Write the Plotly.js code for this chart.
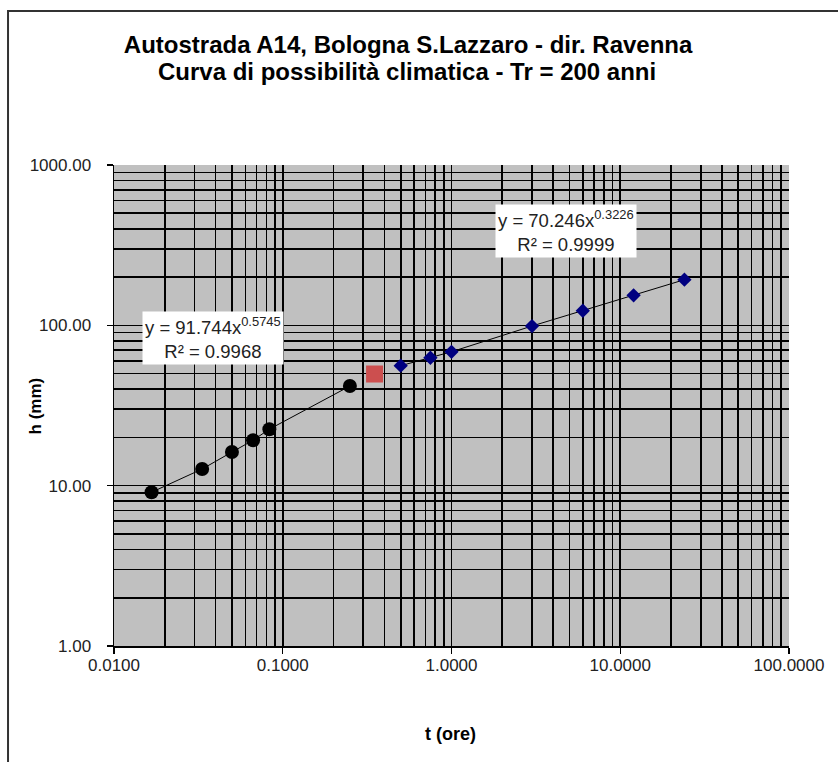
<!DOCTYPE html>
<html>
<head>
<meta charset="utf-8">
<script src="https://cdn.plot.ly/plotly-3.0.1.min.js"></script>
<style>html,body{margin:0;padding:0;background:#fff;}#chart{width:838px;height:762px;}</style>
</head>
<body>
<div id="chart"></div>
<script>
// Short-duration data (t in hours, h in mm)
const tShort = [0.0167, 0.0333, 0.05, 0.0667, 0.0833, 0.25];
const hShort = [9.1, 12.7, 16.2, 19.2, 22.5, 41.8];
// Intermediate point
const tMid = [0.35];
const hMid = [49.7];
// Long-duration data
const tLong = [0.5, 0.75, 1, 3, 6, 12, 24];
const hLong = [56.0, 62.8, 68.4, 99.0, 123.3, 153.9, 192.6];
// Tick labels
const xTickVals = [0.01, 0.1, 1, 10, 100];
const xTickText = ["0.0100", "0.1000", "1.0000", "10.0000", "100.0000"];
const yTickVals = [1, 10, 100, 1000];
const yTickText = ["1.00", "10.00", "100.00", "1000.00"];
// Titles and fit equations
const titleLine1 = "Autostrada A14, Bologna S.Lazzaro - dir. Ravenna";
const titleLine2 = "Curva di possibilità climatica - Tr = 200 anni";
const fitShort = "y = 91.744x<sup>0.5745</sup><br>R² = 0.9968";
const fitLong = "y = 70.246x<sup>0.3226</sup><br>R² = 0.9999";

// gridline positions: every 1..9 × 10^e
function gridVals(lo, hi) {
  const v = [];
  for (let e = lo; e < hi; e++) for (let k = 1; k <= 9; k++) v.push(k * Math.pow(10, e));
  v.push(Math.pow(10, hi));
  return v;
}

const font = "Liberation Sans, Arial, sans-serif";
const traces = [
  // empty trace to register the grid axes
  {x: [], y: [], xaxis: "x2", yaxis: "y2", showlegend: false, hoverinfo: "skip"},
  {x: tShort, y: hShort, mode: "lines+markers", line: {color: "#000", width: 1},
   marker: {symbol: "circle", size: 14, color: "#000"}, showlegend: false},
  {x: tMid, y: hMid, mode: "markers",
   marker: {symbol: "square", size: 17, color: "#cc4f4f"}, showlegend: false},
  {x: tLong, y: hLong, mode: "lines+markers", line: {color: "#000", width: 1},
   marker: {symbol: "diamond", size: 11, color: "#000080"}, showlegend: false}
];

const gridAxis = {
  type: "log", tickmode: "array", showgrid: true, gridcolor: "#000", gridwidth: 1.6,
  showticklabels: false, ticks: "", zeroline: false, showline: false
};
const layout = {
  width: 838, height: 762,
  margin: {l: 114, r: 49, t: 165, b: 116, pad: 0},
  paper_bgcolor: "#fff", plot_bgcolor: "#c0c0c0",
  font: {family: font, color: "#222", size: 17},
  title: {text: "<b>" + titleLine1 + "</b>",
          font: {family: font, size: 24, color: "#000"}, x: 0.487, xanchor: "center", xref: "container",
          y: 1 - 45 / 762, yanchor: "middle", yref: "container"},
  xaxis: {type: "log", range: [-2, 2],
          tickmode: "array", tickvals: xTickVals, ticktext: xTickText, showgrid: false, zeroline: false,
          showline: true, linecolor: "#000", linewidth: 1.5,
          ticks: "outside", ticklen: 6, tickcolor: "#000", tickwidth: 1.3,
          tickfont: {family: font, size: 17, color: "#222"}, ticklabelstandoff: -3},
  yaxis: {type: "log", range: [0, 3],
          tickmode: "array", tickvals: yTickVals, ticktext: yTickText, showgrid: false, zeroline: false,
          showline: true, linecolor: "#000", linewidth: 1.5,
          ticks: "outside", ticklen: 6, tickcolor: "#000", tickwidth: 1.3,
          tickfont: {family: font, size: 17, color: "#222"}, ticklabelstandoff: 12},
  xaxis2: Object.assign({}, gridAxis, {matches: "x", overlaying: "x", anchor: "y2", tickvals: gridVals(-2, 2)}),
  yaxis2: Object.assign({}, gridAxis, {matches: "y", overlaying: "y", anchor: "x2", tickvals: gridVals(0, 3)}),
  annotations: [
    {text: "<b>" + titleLine2 + "</b>", xref: "paper", yref: "paper", x: (407 - 114) / 675, y: (645.7 - 72) / 480.7,
     xanchor: "center", yanchor: "middle", showarrow: false, font: {family: font, size: 24, color: "#000"}},
    {text: fitShort, xref: "paper", yref: "paper", x: 0.146, y: 0.64, xanchor: "center", yanchor: "middle",
     showarrow: false, bgcolor: "#fff", font: {size: 18.5, color: "#222"}, borderpad: 2, align: "center"},
    {text: fitLong, xref: "paper", yref: "paper", x: 0.670, y: 0.863, xanchor: "center", yanchor: "middle",
     showarrow: false, bgcolor: "#fff", font: {size: 18.5, color: "#222"}, borderpad: 2, align: "center"},
    {text: "<b>t (ore)</b>", xref: "paper", yref: "paper", x: 0.498, y: -0.182, xanchor: "center", yanchor: "middle",
     showarrow: false, font: {size: 18, color: "#000"}},
    {text: "<b>h (mm)</b>", xref: "paper", yref: "paper", x: -0.1156, y: 0.50, xanchor: "center", yanchor: "middle",
     textangle: -90, showarrow: false, font: {size: 17, color: "#000"}}
  ],
  shapes: [
    {type: "rect", xref: "paper", yref: "paper", x0: -0.157, x1: 1.08, y0: -0.3, y1: 1.32,
     line: {color: "#333", width: 2}, fillcolor: "rgba(0,0,0,0)", layer: "below"}
  ]
};
Plotly.newPlot("chart", traces, layout, {displayModeBar: false, staticPlot: true});
</script>
</body>
</html>
